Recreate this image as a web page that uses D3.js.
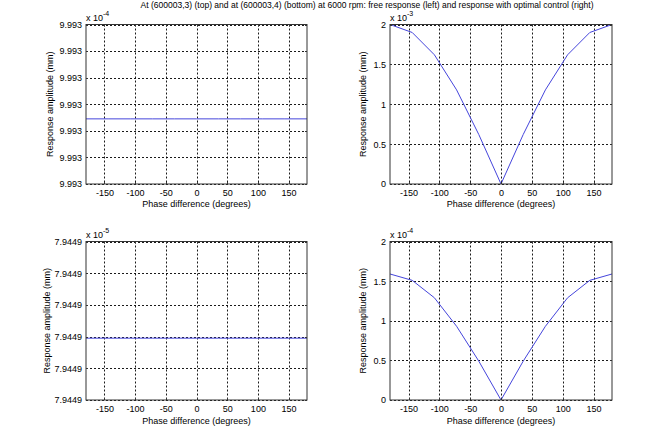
<!DOCTYPE html>
<html>
<head>
<meta charset="utf-8">
<script src="https://cdn.jsdelivr.net/npm/d3@7"></script>
<style>
  body { margin: 0; background: #fff; }
  svg text { font-family: "Liberation Sans", Arial, sans-serif; fill: #000; }
</style>
</head>
<body>
<script>
// phase difference samples (degrees)
var phase = [-180, -144, -108, -72, -36, 0, 36, 72, 108, 144, 180];

// responses (in units of the axis multiplier)
var freeTop  = [9.993249, 9.993249, 9.993249, 9.993249, 9.993249, 9.993249, 9.993249, 9.993249, 9.993249, 9.993249, 9.993249]; // x 1e-4
var ctrlTop  = [2.00, 1.90, 1.62, 1.18, 0.62, 0, 0.62, 1.18, 1.62, 1.90, 2.00];                 // x 1e-3
var freeBot  = [7.9449039, 7.9449039, 7.9449039, 7.9449039, 7.9449039, 7.9449039, 7.9449039, 7.9449039, 7.9449039, 7.9449039, 7.9449039]; // x 1e-5
var ctrlBot  = [1.59, 1.51, 1.29, 0.93, 0.49, 0, 0.49, 0.93, 1.29, 1.51, 1.59];                 // x 1e-4

// tick values
var xTicks = [-150, -100, -50, 0, 50, 100, 150];
var yTicksFreeTop = [9.99320, 9.99322, 9.99324, 9.99326, 9.99328, 9.99330, 9.99332];
var yTicksCtrlTop = [0, 0.5, 1, 1.5, 2];
var yTicksFreeBot = [7.944900, 7.944902, 7.944904, 7.944906, 7.944908, 7.944910];
var yTicksCtrlBot = [0, 0.5, 1, 1.5, 2];

var titleText = "At (600003,3) (top) and at (600003,4) (bottom) at 6000 rpm: free response (left) and response with optimal control (right)";
var xLabel = "Phase difference (degrees)";
var yLabel = "Response amplitude (mm)";

var W = 669, H = 428;
var svg = d3.select("body").append("svg")
  .attr("width", W)
  .attr("height", H);

// figure title
svg.append("text")
  .attr("x", 367)
  .attr("y", 8)
  .attr("text-anchor", "middle")
  .attr("textLength", 453)
  .attr("lengthAdjust", "spacingAndGlyphs")
  .style("font-size", "9px")
  .text(titleText);

// plain hyphen minus like the original
function plain(f) {
  return function(d) { return f(d).replace("\u2212", "-"); };
}

function drawPanel(p) {
  var xScale = d3.scaleLinear().domain([-180, 180]).range([p.left, p.right]);
  var yScale = d3.scaleLinear().domain(p.yDomain).range([p.bottom, p.top]);
  var g = svg.append("g");

  // grid
  g.selectAll(".vgrid").data(xTicks).enter().append("line")
    .attr("x1", function(d) { return Math.round(xScale(d)) + 0.5; })
    .attr("x2", function(d) { return Math.round(xScale(d)) + 0.5; })
    .attr("y1", p.top).attr("y2", p.bottom)
    .attr("stroke", "#000").attr("stroke-width", 0.9)
    .attr("stroke-dasharray", "2,2");
  g.selectAll(".hgrid").data(p.yTicks).enter().append("line")
    .attr("y1", function(d) { return Math.round(yScale(d)) + 0.5; })
    .attr("y2", function(d) { return Math.round(yScale(d)) + 0.5; })
    .attr("x1", p.left).attr("x2", p.right)
    .attr("stroke", "#000").attr("stroke-width", 0.9)
    .attr("stroke-dasharray", "2,2");

  // axes
  var xAxis = d3.axisBottom(xScale).tickValues(xTicks).tickSize(0).tickPadding(6)
    .tickFormat(plain(d3.format("d")));
  var gx = g.append("g")
    .attr("transform", "translate(0," + p.bottom + ")")
    .call(xAxis);
  var yAxis = d3.axisLeft(yScale).tickValues(p.yTicks).tickSize(0).tickPadding(4)
    .tickFormat(plain(p.fmt));
  var gy = g.append("g")
    .attr("transform", "translate(" + p.left + ",0)")
    .call(yAxis);
  [gx, gy].forEach(function(a) {
    a.select(".domain").remove();
    a.selectAll("text").style("font-size", "9px").attr("fill", "#000")
      .style("font-family", "'Liberation Sans', Arial, sans-serif");
  });

  // data line
  var line = d3.line()
    .x(function(d, i) { return xScale(phase[i]); })
    .y(function(d) { return yScale(d); });
  g.append("path")
    .datum(p.values)
    .attr("fill", "none")
    .attr("stroke", "#4545dc")
    .attr("stroke-width", 1)
    .attr("d", line);

  // box
  g.append("rect")
    .attr("x", p.left).attr("y", p.top)
    .attr("width", p.right - p.left).attr("height", p.bottom - p.top)
    .attr("fill", "none").attr("stroke", "#333").attr("stroke-width", 1);

  // small inward ticks
  xTicks.forEach(function(t) {
    var x = Math.round(xScale(t)) + 0.5;
    g.append("line").attr("x1", x).attr("x2", x).attr("y1", p.bottom).attr("y2", p.bottom - 2).attr("stroke", "#333");
    g.append("line").attr("x1", x).attr("x2", x).attr("y1", p.top).attr("y2", p.top + 2).attr("stroke", "#333");
  });
  p.yTicks.forEach(function(t) {
    var y = Math.round(yScale(t)) + 0.5;
    g.append("line").attr("y1", y).attr("y2", y).attr("x1", p.left).attr("x2", p.left + 2).attr("stroke", "#333");
    g.append("line").attr("y1", y).attr("y2", y).attr("x1", p.right).attr("x2", p.right - 2).attr("stroke", "#333");
  });

  // exponent label
  var ex = g.append("text")
    .attr("x", p.left)
    .attr("y", p.top - 4)
    .style("font-size", "9px");
  ex.append("tspan").text("x 10");
  ex.append("tspan").attr("dy", -5).style("font-size", "7px").text(p.exp);

  // axis labels
  g.append("text")
    .attr("x", (p.left + p.right) / 2)
    .attr("y", p.bottom + p.xLabelDy)
    .attr("text-anchor", "middle")
    .style("font-size", "9px")
    .text(xLabel);
  g.append("text")
    .attr("transform", "translate(" + (p.left - p.yLabelDx) + "," + ((p.top + p.bottom) / 2) + ") rotate(-90)")
    .attr("text-anchor", "middle")
    .attr("dy", "0.35em")
    .style("font-size", "9px")
    .text(yLabel);
}

drawPanel({
  left: 86, right: 307, top: 24.5, bottom: 184,
  yDomain: [9.99320, 9.99332], yTicks: yTicksFreeTop, fmt: d3.format(".4"),
  values: freeTop, exp: "-4", xLabelDy: 22.5, yLabelDx: 36
});
drawPanel({
  left: 390, right: 612, top: 24.5, bottom: 184,
  yDomain: [0, 2], yTicks: yTicksCtrlTop, fmt: d3.format(""),
  values: ctrlTop, exp: "-3", xLabelDy: 22.5, yLabelDx: 27
});
drawPanel({
  left: 86, right: 307, top: 241.5, bottom: 400,
  yDomain: [7.944900, 7.944910], yTicks: yTicksFreeBot, fmt: d3.format(".5"),
  values: freeBot, exp: "-5", xLabelDy: 23.5, yLabelDx: 39
});
drawPanel({
  left: 390, right: 612, top: 241.5, bottom: 400,
  yDomain: [0, 2], yTicks: yTicksCtrlBot, fmt: d3.format(""),
  values: ctrlBot, exp: "-4", xLabelDy: 23.5, yLabelDx: 27
});
</script>
</body>
</html>
